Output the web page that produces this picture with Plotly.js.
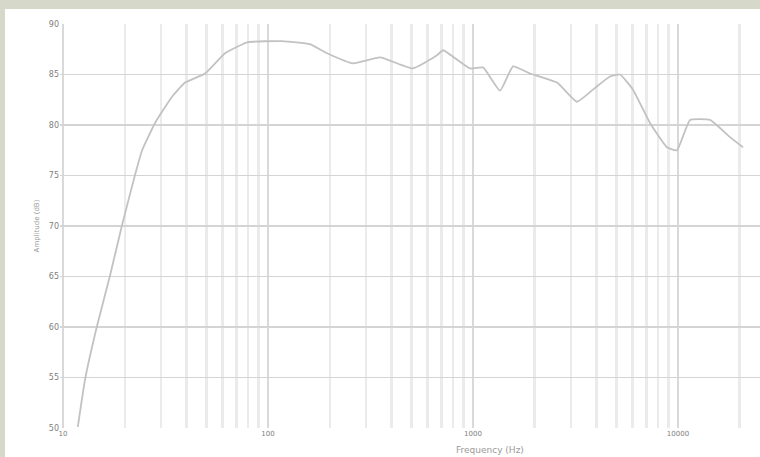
<!DOCTYPE html>
<html>
<head>
<meta charset="utf-8">
<script src="https://cdn.plot.ly/plotly-3.0.1.min.js"></script>
<style>
  html, body { margin: 0; padding: 0; background: #d6d8c9; width: 760px; height: 457px; overflow: hidden; }
  #chart { position: absolute; left: 5px; top: 9px; width: 755px; height: 448px; background: #ffffff; }
</style>
</head>
<body>
<div id="chart"></div>
<script>
// Frequency (Hz)
const frequency = [11.8, 12.8, 14.6, 16.9, 19.4, 22.4, 24.3, 28.1, 34.0, 39.4, 49.3, 61.7, 79.8, 117, 160, 194, 260, 352, 509, 667, 714, 967, 1119, 1355, 1567, 1897, 2570, 3215, 3846, 4656, 5210, 6030, 7300, 8830, 9890, 11450, 14330, 17930, 20740];
// Level (dB)
const level = [50.1, 54.8, 60.0, 65.0, 70.1, 75.0, 77.5, 80.2, 82.8, 84.2, 85.1, 87.1, 88.2, 88.3, 88.0, 87.1, 86.1, 86.7, 85.6, 86.9, 87.4, 85.6, 85.7, 83.4, 85.8, 85.1, 84.2, 82.3, 83.5, 84.8, 85.0, 83.5, 80.2, 77.8, 77.5, 80.5, 80.5, 78.8, 77.8];
const yTicks = [50, 55, 60, 65, 70, 75, 80, 85, 90];
const xTicks = [10, 100, 1000, 10000];
const xTickLabels = ["10", "100", "1000", "10000"];

const trace = {
  x: frequency,
  y: level,
  type: 'scatter',
  mode: 'lines',
  line: { color: '#c2c2c2', width: 1.8, shape: 'spline', smoothing: 0.4 },
  hoverinfo: 'x+y'
};

const layout = {
  width: 755,
  height: 448,
  margin: { l: 55, r: 0, t: 15, b: 29 },
  paper_bgcolor: '#ffffff',
  plot_bgcolor: '#ffffff',
  showlegend: false,
  font: { family: 'DejaVu Sans, sans-serif', size: 7, color: '#8a8a8a' },
  xaxis: {
    type: 'log',
    range: [0.985, 4.4],
    tickvals: xTicks,
    ticktext: xTickLabels,
    showgrid: true,
    gridcolor: '#d9d9d9',
    gridwidth: 2,
    minor: { dtick: 'D1', showgrid: true, gridcolor: '#ebebeb', gridwidth: 2.5, ticks: '' },
    zeroline: false,
    showline: false,
    ticks: '',
    tickfont: { size: 7, color: '#808080' },
    title: { text: '' }
  },
  yaxis: {
    range: [50, 90],
    tickvals: yTicks,
    showgrid: true,
    gridcolor: '#d4d4d4',
    gridwidth: 1.5,
    zeroline: false,
    showline: false,
    ticks: '',
    ticklabelstandoff: 0,
    tickfont: { size: 8, color: '#808080' },
    title: { text: 'Amplitude (dB)', font: { size: 7, color: '#9a9a9a' }, standoff: 8 }
  },
  annotations: [{
    text: 'Frequency (Hz)',
    xref: 'paper', yref: 'paper',
    x: 0.614, y: 0, yshift: -15,
    xanchor: 'center', yanchor: 'top',
    showarrow: false,
    font: { size: 9, color: '#9a9a9a' }
  }]
};

Plotly.newPlot('chart', [trace], layout, { displayModeBar: false, staticPlot: true });
</script>
</body>
</html>
